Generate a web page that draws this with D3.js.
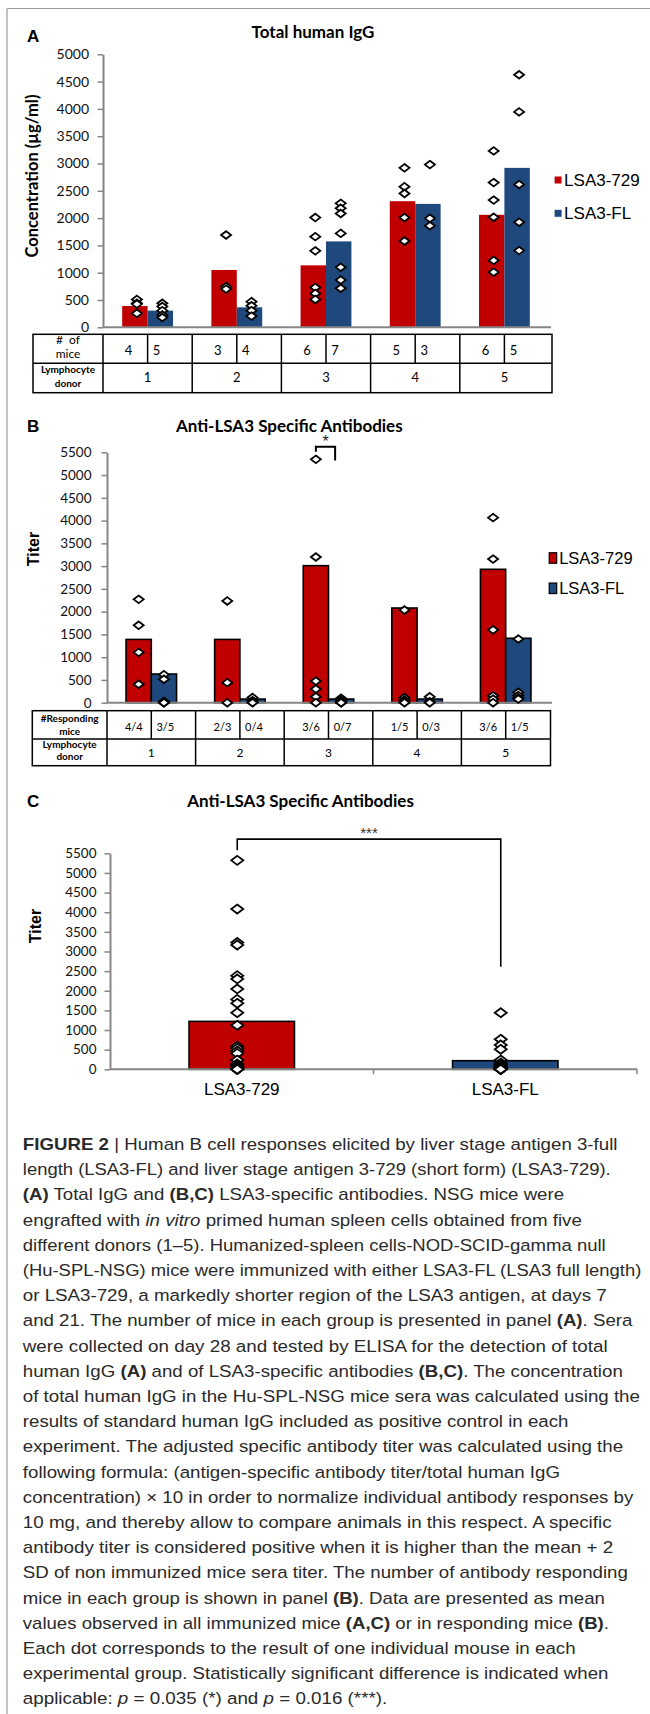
<!DOCTYPE html>
<html>
<head>
<meta charset="utf-8">
<script src="https://cdn.jsdelivr.net/npm/d3@7"></script>
<style>
body { margin: 0; background: #fff; }
svg { display: block; }
</style>
</head>
<body>
<svg id="fig" width="650" height="1714"></svg>
<script>
var donors = ["1", "2", "3", "4", "5"];
var series = ["LSA3-729", "LSA3-FL"];
var colors = {"LSA3-729": "#C00000", "LSA3-FL": "#1F497D"};

// panel A : total human IgG (ug/ml), bar = mean, points = mice
var iggMean729 = [390, 1050, 1135, 2310, 2060];
var iggMeanFL = [305, 366, 1573, 2260, 2920];
var iggMice729 = [[510, 440, 425, 255], [1690, 745, 700], [2010, 1660, 1400, 730, 620, 510],
                  [2920, 2575, 2450, 2010, 1580], [3230, 2650, 2330, 2015, 1225, 1010]];
var iggMiceFL = [[440, 380, 305, 225, 180], [470, 395, 305, 205], [2270, 2180, 2085, 1720, 1100, 865, 715],
                 [2980, 1995, 1860], [4625, 3945, 2615, 1925, 1405]];
var miceCount729 = ["4", "3", "6", "5", "6"];
var miceCountFL = ["5", "4", "7", "3", "5"];
var ticksA = [0, 500, 1000, 1500, 2000, 2500, 3000, 3500, 4000, 4500, 5000];

// panel B : anti-LSA3 titer per donor
var titerMean729 = [1390, 1390, 3010, 2080, 2930];
var titerMeanFL = [630, 80, 80, 80, 1415];
var titerMice729 = [[2270, 1700, 1105, 405], [2235, 440, 0], [5345, 3200, 475, 300, 130, 0],
                    [2035, 115, 60, 20, 0], [4065, 3155, 1600, 150, 80, 0]];
var titerMiceFL = [[615, 515, 30, 0, 0], [115, 45, 10, 0], [100, 60, 45, 20, 10, 0, 0],
                   [130, 20, 0], [1400, 230, 160, 110, 80]];
var responders729 = ["4/4", "2/3", "3/6", "1/5", "3/6"];
var respondersFL = ["3/5", "0/4", "0/7", "0/3", "1/5"];
var ticksB = [0, 500, 1000, 1500, 2000, 2500, 3000, 3500, 4000, 4500, 5000, 5500];

// panel C : pooled titer
var pooledMean = [1220, 219];
var pooled729 = [5320, 4080, 3230, 3165, 2385, 2300, 2045, 1780, 1680, 1440, 1120, 590,
                 535, 465, 405, 235, 135, 100, 60, 25, 0, 0, 0, 0];
var pooledFL = [1440, 765, 620, 510, 235, 160, 135, 110, 100, 80, 60, 45,
                40, 30, 20, 20, 10, 10, 0, 0, 0, 0, 0, 0];

var svg = d3.select("#fig");
var LATO = "Lato, 'Open Sans', sans-serif";
var ARIAL = "'Liberation Sans', Arial, sans-serif";

// frame
svg.append("line").attr("x1", 7).attr("x2", 650).attr("y1", 8.5).attr("y2", 8.5).attr("stroke", "#9a9a9a").attr("stroke-width", 1.2);
svg.append("line").attr("x1", 7).attr("x2", 7).attr("y1", 8.5).attr("y2", 1714).attr("stroke", "#9a9a9a").attr("stroke-width", 1.2);

function diamond(g, cx, cy, w, h)
{
    g.append("path")
        .attr("d", "M" + cx + "," + (cy - h) + "L" + (cx + w) + "," + cy + "L" + cx + "," + (cy + h) + "L" + (cx - w) + "," + cy + "Z")
        .attr("fill", "#fff").attr("stroke", "#000").attr("stroke-width", 1.8)
}

function label(x, y, txt, size, weight, family, anchor)
{
    return svg.append("text").attr("x", x).attr("y", y).text(txt)
        .style("font-family", family || LATO).style("font-size", size + "px")
        .style("font-weight", weight || "normal").attr("text-anchor", anchor || "start").attr("fill", "#000");
}

function yAxis(scale, x, ticks, fontSize, pad)
{
    var ax = svg.append("g").attr("transform", "translate(" + x + ",0)")
        .call(d3.axisLeft(scale).tickValues(ticks).tickFormat(d3.format("d"))
            .tickSize(5.5).tickSizeOuter(0).tickPadding(pad));
    ax.select(".domain").attr("stroke", "#868686").attr("stroke-width", 2);
    ax.selectAll(".tick line").attr("stroke", "#868686").attr("stroke-width", 1.5);
    ax.selectAll(".tick text").style("font-family", LATO).style("font-size", fontSize + "px").attr("fill", "#111");
}

// grouped panel (A and B)
function groupPanel(p)
{
    var x0 = d3.scaleBand().domain(donors).range(p.xr).paddingInner(0.43).paddingOuter(0.215);
    var x1 = d3.scaleBand().domain(series).range([0, x0.bandwidth()]);
    var means = {"LSA3-729": p.mean729, "LSA3-FL": p.meanFL};
    var mice = {"LSA3-729": p.mice729, "LSA3-FL": p.miceFL};
    var g = svg.append("g");

    donors.forEach(function(d, i) {
        series.forEach(function(s) {
            var v = means[s][i];
            g.append("rect")
                .attr("x", x0(d) + x1(s)).attr("y", p.y(v))
                .attr("width", x1.bandwidth()).attr("height", p.y(0) - p.y(v))
                .attr("fill", colors[s])
                .attr("stroke", p.outline ? "#000" : "none").attr("stroke-width", 1.6);
        });
    });
    yAxis(p.y, p.xr[0], p.ticks, p.tickFont, p.tickPad);
    svg.append("line").attr("x1", p.xr[0]).attr("x2", p.xr[1] + 2).attr("y1", p.y(0)).attr("y2", p.y(0))
        .attr("stroke", "#868686").attr("stroke-width", 2);

    var dg = svg.append("g");
    donors.forEach(function(d, i) {
        series.forEach(function(s) {
            var cx = x0(d) + x1(s) + x1.bandwidth() / 2 + p.dotShift;
            mice[s][i].forEach(function(v) {
                diamond(dg, cx, p.y(v), 5, 3.8);
            });
        });
    });
    return x0;
}

// table under panels A and B
function table(x0, t)
{
    var g = svg.append("g").attr("stroke", "#000").attr("stroke-width", 1.5);
    var r0 = x0.range()[0];
    g.append("rect").attr("x", t.left).attr("y", t.top).attr("width", t.right - t.left).attr("height", t.bottom - t.top).attr("fill", "none");
    g.append("line").attr("x1", t.left).attr("x2", t.right).attr("y1", t.mid).attr("y2", t.mid);
    g.append("line").attr("x1", r0).attr("x2", r0).attr("y1", t.top).attr("y2", t.bottom);
    donors.forEach(function(d, i) {
        var c = x0(d) + x0.bandwidth() / 2;
        if (i > 0) {
            var b = r0 + i * x0.step();
            g.append("line").attr("x1", b).attr("x2", b).attr("y1", t.top).attr("y2", t.bottom);
        }
        g.append("line").attr("x1", c).attr("x2", c).attr("y1", t.top).attr("y2", t.mid);
        label(c + t.redOff, t.row1, t.red[i], t.numFont, "normal", LATO, "middle");
        label(c + t.blueOff, t.row1, t.blue[i], t.numFont, "normal", LATO, "middle");
        label(c, t.row2, d, t.donorFont, "normal", LATO, "middle");
    });
    var hx = (t.left + r0) / 2;
    label(hx, t.h1a, t.head[0], t.headFont, t.headWeight, LATO, "middle").style("white-space", "pre");
    label(hx, t.h1b, t.head[1], t.headFont, t.headWeight, LATO, "middle");
    label(hx, t.h2a, "Lymphocyte", 10, "bold", LATO, "middle");
    label(hx, t.h2b, "donor", 10, "bold", LATO, "middle");
}

function legend(x, ys, sq, outline, size)
{
    series.forEach(function(s, i) {
        svg.append("rect").attr("x", x).attr("y", ys[i] - sq[1] / 2).attr("width", sq[0]).attr("height", sq[1])
            .attr("fill", colors[s]).attr("stroke", outline ? "#000" : "none").attr("stroke-width", 1.2);
        label(x + sq[0] + 2.5, ys[i] + size * 0.36, s, size, "normal", ARIAL);
    });
}

// ---------------- panel A
label(27, 41.7, "A", 17, "bold", ARIAL);
label(313, 38.3, "Total human IgG", 17, "bold", LATO, "middle");
svg.append("text").attr("transform", "translate(38,176) rotate(-90)").attr("text-anchor", "middle")
    .text("Concentration (\u00b5g/ml)").style("font-family", LATO).style("font-size", "16.5px").style("font-weight", "bold");
var yA = d3.scaleLinear().domain([0, 5000]).range([327.3, 54.3]);
var xA = groupPanel({y: yA, xr: [103, 549], ticks: ticksA, tickFont: 14, tickPad: 8.5, outline: false, dotShift: 2,
    mean729: iggMean729, meanFL: iggMeanFL, mice729: iggMice729, miceFL: iggMiceFL});
table(xA, {left: 33, right: 552, top: 334.3, mid: 363.3, bottom: 392.7, row1: 354.8, row2: 381.7,
    red: miceCount729, blue: miceCountFL, redOff: -19, blueOff: 9, numFont: 13, donorFont: 13,
    head: ["#  of", "mice"], headFont: 12, headWeight: "normal", h1a: 344, h1b: 358, h2a: 373, h2b: 386.7});
legend(554.6, [180, 213.3], [7, 7], false, 17);

// ---------------- panel B
label(27, 432.3, "B", 17, "bold", ARIAL);
label(289.3, 431.7, "Anti-LSA3 Specific Antibodies", 17, "bold", LATO, "middle");
svg.append("text").attr("transform", "translate(39.4,549) rotate(-90)").attr("text-anchor", "middle")
    .text("Titer").style("font-family", ARIAL).style("font-size", "16px").style("font-weight", "bold");
var yB = d3.scaleLinear().domain([0, 5500]).range([702.7, 452.3]);
var xB = groupPanel({y: yB, xr: [107, 550], ticks: ticksB, tickFont: 13.5, tickPad: 10, outline: true, dotShift: 0,
    mean729: titerMean729, meanFL: titerMeanFL, mice729: titerMice729, miceFL: titerMiceFL});
table(xB, {left: 32.3, right: 550.5, top: 710.7, mid: 739, bottom: 765.7, row1: 730.7, row2: 756.7,
    red: responders729, blue: respondersFL, redOff: -17.5, blueOff: 14, numFont: 11, donorFont: 12,
    head: ["#Responding", "mice"], headFont: 10, headWeight: "bold", h1a: 721.5, h1b: 735, h2a: 748, h2b: 760});
legend(549.2, [558, 588.3], [7.5, 10.5], true, 16.5);

// significance bracket on donor 3
(function() {
    var x1 = xB.bandwidth() / 2;
    var left = xB("3") + x1 / 2, right = xB("3") + x1 * 1.5 - 6;
    svg.append("path").attr("fill", "none").attr("stroke", "#000").attr("stroke-width", 2)
        .attr("d", "M" + left + "," + yB(5510) + "V" + yB(5620) + "H" + right + "V" + yB(5320));
    label((left + right) / 2, 447, "*", 16, "normal", ARIAL, "middle").attr("fill", "#222");
})();

// ---------------- panel C
label(27, 806.7, "C", 17, "bold", ARIAL);
label(300.5, 806.7, "Anti-LSA3 Specific Antibodies", 17, "bold", LATO, "middle");
svg.append("text").attr("transform", "translate(40.6,926) rotate(-90)").attr("text-anchor", "middle")
    .text("Titer").style("font-family", ARIAL).style("font-size", "16px").style("font-weight", "bold");
var yC = d3.scaleLinear().domain([0, 5500]).range([1069.3, 853.3]);
var xC = d3.scaleBand().domain(series).range([110, 637]).paddingInner(0.6).paddingOuter(0.3);
series.forEach(function(s, i) {
    svg.append("rect").attr("x", xC(s)).attr("y", yC(pooledMean[i]))
        .attr("width", xC.bandwidth()).attr("height", yC(0) - yC(pooledMean[i]))
        .attr("fill", colors[s]).attr("stroke", "#000").attr("stroke-width", 1.6);
});
yAxis(yC, 110, ticksB, 13.5, 8);
svg.append("line").attr("x1", 110).attr("x2", 637).attr("y1", yC(0)).attr("y2", yC(0)).attr("stroke", "#868686").attr("stroke-width", 2);
[1, 2].forEach(function(i) {
    var b = 110 + i * xC.step();
    svg.append("line").attr("x1", b).attr("x2", b).attr("y1", yC(0)).attr("y2", yC(0) + 5).attr("stroke", "#868686").attr("stroke-width", 1.5);
});
series.forEach(function(s) {
    label(xC(s) + xC.bandwidth() / 2, 1095, s, 17, "normal", ARIAL, "middle");
});
var dgC = svg.append("g");
[pooled729, pooledFL].forEach(function(vals, i) {
    var cx = xC(series[i]) + xC.bandwidth() / 2 - 4.5;
    vals.forEach(function(v) { diamond(dgC, cx, yC(v), 6, 4.5); });
});
(function() {
    var l = xC(series[0]) + xC.bandwidth() / 2 - 4.5, r = xC(series[1]) + xC.bandwidth() / 2 - 4.5;
    svg.append("path").attr("fill", "none").attr("stroke", "#000").attr("stroke-width", 1.6)
        .attr("d", "M" + l + "," + yC(5580) + "V" + yC(5860) + "H" + r + "V" + yC(2610));
    label((l + r) / 2, 838, "***", 15, "normal", ARIAL, "middle").attr("fill", "#333");
})();

// ---------------- caption
var capLines = [
    [["FIGURE 2", "b"], [" | Human B cell responses elicited by liver stage antigen 3-full", ""]],
    [["length (LSA3-FL) and liver stage antigen 3-729 (short form) (LSA3-729).", ""]],
    [["(A)", "b"], [" Total IgG and ", ""], ["(B,C)", "b"], [" LSA3-specific antibodies. NSG mice were", ""]],
    [["engrafted with ", ""], ["in vitro", "i"], [" primed human spleen cells obtained from five", ""]],
    [["different donors (1\u20135). Humanized-spleen cells-NOD-SCID-gamma null", ""]],
    [["(Hu-SPL-NSG) mice were immunized with either LSA3-FL (LSA3 full length)", ""]],
    [["or LSA3-729, a markedly shorter region of the LSA3 antigen, at days 7", ""]],
    [["and 21. The number of mice in each group is presented in panel ", ""], ["(A)", "b"], [". Sera", ""]],
    [["were collected on day 28 and tested by ELISA for the detection of total", ""]],
    [["human IgG ", ""], ["(A)", "b"], [" and of LSA3-specific antibodies ", ""], ["(B,C)", "b"], [". The concentration", ""]],
    [["of total human IgG in the Hu-SPL-NSG mice sera was calculated using the", ""]],
    [["results of standard human IgG included as positive control in each", ""]],
    [["experiment. The adjusted specific antibody titer was calculated using the", ""]],
    [["following formula: (antigen-specific antibody titer/total human IgG", ""]],
    [["concentration) \u00d7 10 in order to normalize individual antibody responses by", ""]],
    [["10 mg, and thereby allow to compare animals in this respect. A specific", ""]],
    [["antibody titer is considered positive when it is higher than the mean + 2", ""]],
    [["SD of non immunized mice sera titer. The number of antibody responding", ""]],
    [["mice in each group is shown in panel ", ""], ["(B)", "b"], [". Data are presented as mean", ""]],
    [["values observed in all immunized mice ", ""], ["(A,C)", "b"], [" or in responding mice ", ""], ["(B)", "b"], [".", ""]],
    [["Each dot corresponds to the result of one individual mouse in each", ""]],
    [["experimental group. Statistically significant difference is indicated when", ""]],
    [["applicable: ", ""], ["p", "i"], [" = 0.035 (*) and ", ""], ["p", "i"], [" = 0.016 (***).", ""]]
];
var capEnds = [617.6, 611.4, 564.5, 582.4, 606, 641.6, 607.2, 633.4, 609.3, 623, 640.4,
               568.7, 623.8, 560.4, 634.2, 612.6, 613.5, 628, 605.2, 609.3, 576.2, 608.5, 387.6];
capLines.forEach(function(line, i) {
    var t = svg.append("text").attr("x", 0).attr("y", 0)
        .style("font-family", "'Liberation Sans', Arial, sans-serif").style("font-size", "17px").attr("fill", "#2a2a2a");
    line.forEach(function(seg) {
        t.append("tspan").text(seg[0])
            .style("font-weight", seg[1] == "b" ? 700 : 400)
            .style("font-style", seg[1] == "i" ? "italic" : "normal");
    });
    var w = t.node().getBBox().width;
    var sx = (capEnds[i] - 22.8) / w;
    t.attr("transform", "translate(22.8," + (1150 + i * 25.2) + ") scale(" + sx + ",1)");
});
</script>
</body>
</html>
